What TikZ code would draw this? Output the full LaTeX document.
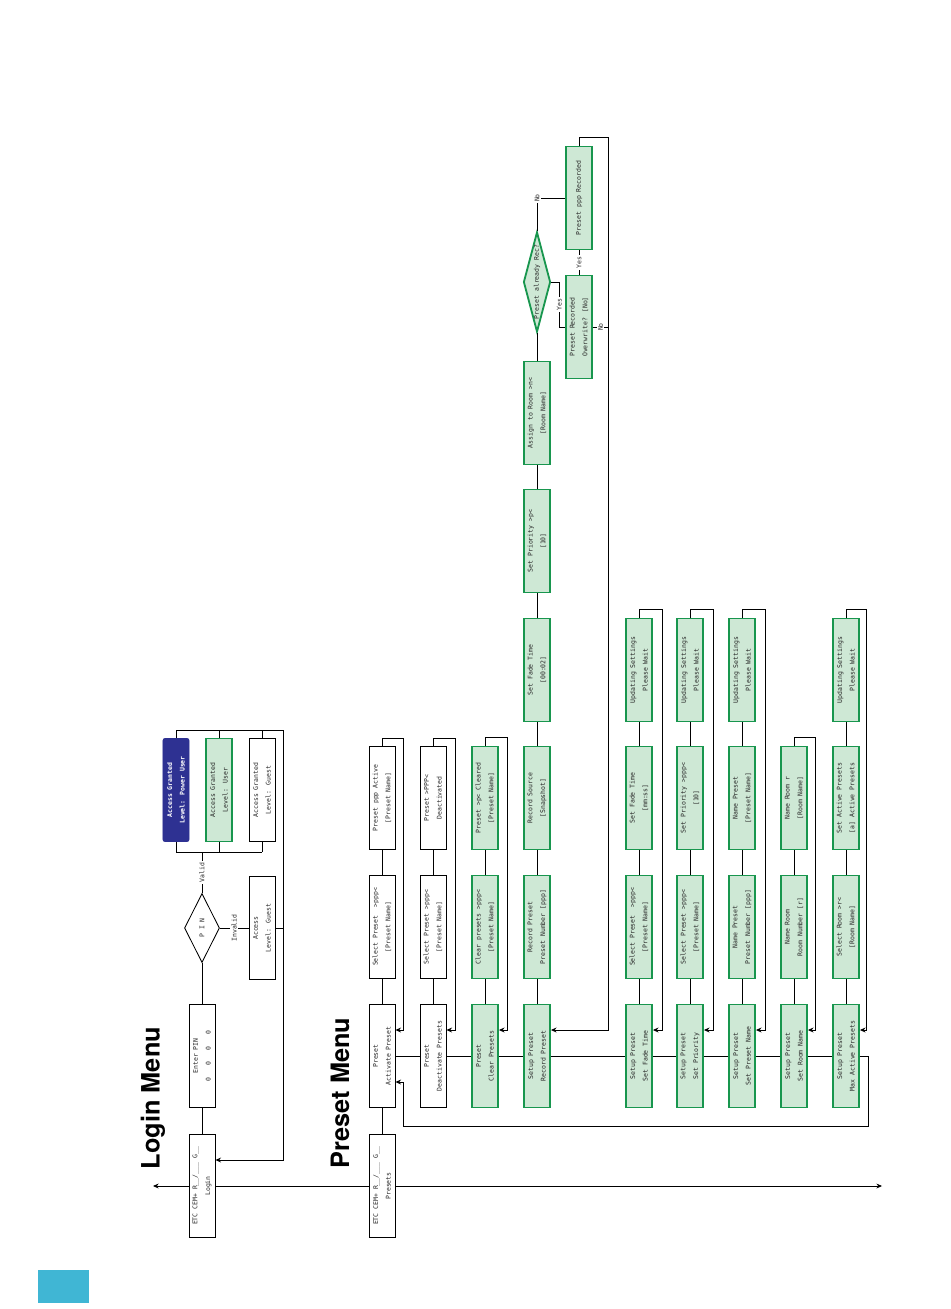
\documentclass[tikz,border=0pt]{standalone}
\usepackage{fontspec}
\setmainfont{TeX Gyre Heros}
\newfontfamily\boxfont{DejaVu Sans Mono}
\usetikzlibrary{shapes.geometric,arrows.meta,calc}

\definecolor{boxgreen}{RGB}{24,150,78}
\definecolor{boxfill}{RGB}{206,232,213}
\definecolor{userblue}{RGB}{46,49,146}
\definecolor{tabcyan}{RGB}{64,182,212}

\begin{document}
\begin{tikzpicture}[
    x=0.025cm, y=-0.025cm,
    line width=0.6pt,
    every node/.style={font=\boxfont\fontsize{4.6}{9}\selectfont, text=black!85},
    box/.style={
        draw, rectangle, rotate=90,
        minimum width=2.575cm,
        minimum height=0.65cm,
        inner sep=0pt,
        align=center
    },
    gbox/.style={box, draw=boxgreen, line width=1.3pt, fill=boxfill},
    decision/.style={draw, diamond, rotate=90, inner sep=0pt},
    gdecision/.style={decision, draw=boxgreen, line width=1.3pt, fill=boxfill},
    lbl/.style={rotate=90, fill=white, inner sep=1pt},
    title/.style={rotate=90, font=\bfseries\fontsize{18}{20}\selectfont, text=black},
    arrow/.style={-{Stealth[length=4pt,width=3.5pt]}}
]
\useasboundingbox (0,0) rectangle (950,1309);

%% ── Page tab and titles ──────────────────────────────
\fill[tabcyan] (38,1270) rectangle (89,1303);
\node[title] (loginTitle) at (153,1098) {Login Menu};
\node[title] (presetTitle) at (340,1093) {Preset Menu};

%% ── Login menu ────────────────────────────────────────
\node[box] (login) at (202,1186) {ETC CEM+ R\_\_/\_\_\_ G\_\_\\Login};
\node[box] (pin) at (202,1056) {Enter PIN\\0~~~0~~~0~~~0};
\node[decision, minimum width=1.725cm, minimum height=0.875cm] (pinchk) at (202,928) {};
\node[rotate=90] (pintxt) at (pinchk) {P I N};
\node[box, fill=userblue, draw=userblue, rounded corners=1.5pt, text=white,
      font=\boxfont\bfseries\fontsize{4.6}{9}\selectfont] (power) at (176,790)
    {Access Granted\\Level: Power User};
\node[gbox] (user) at (219,790) {Access Granted\\Level: User};
\node[box] (guest) at (262,790) {Access Granted\\Level: Guest};
\node[box] (guestlvl) at (262,928) {Access\\Level: Guest};

\coordinate (valid) at (202,852);
\coordinate (loginret) at (283,730);
\coordinate (lineL) at (153,1186);
\coordinate (lineR) at (882,1186);

\draw (login) -- (pin);
\draw (pin) -- (pinchk);
\draw (pinchk.east) -- node[lbl]{Valid} (valid);
\draw (power.west |- valid) -- (guest.west |- valid);
\foreach \acc in {power,user,guest}{
    \draw (\acc.west) -- (\acc.west |- valid);
    \draw (\acc.east) -- (\acc.east |- loginret);
}
\draw (power.east |- loginret) -- (loginret);
\draw (pinchk.south) -- node[lbl]{Invalid} (guestlvl);
\draw (guestlvl.south) -- (guestlvl.south -| loginret);
\draw[arrow] (loginret) |- ($(login.south)+(0,-26)$);

%% ── Preset menu: first row ────────────────────────────
\node[box] (presets) at (382,1186) {ETC CEM+ R\_\_/\_\_\_ G\_\_\\Presets};
\node[box] (actP) at (382,1056) {Preset\\Activate Preset};
\node[box] (deactP) at (433,1056) {Preset\\Deactivate Presets};
\node[gbox] (clearP) at (485,1056) {Preset\\Clear Presets};
\node[gbox] (recP) at (537,1056) {Setup Preset\\Record Preset};
\node[gbox] (fadeP) at (639,1056) {Setup Preset\\Set Fade Time};
\node[gbox] (prioP) at (690,1056) {Setup Preset\\Set Priority};
\node[gbox] (nameP) at (742,1056) {Setup Preset\\Set Preset Name};
\node[gbox] (roomP) at (794,1056) {Setup Preset\\Set Room Name};
\node[gbox] (maxP) at (846,1056) {Setup Preset\\Max Active Presets};

%% ── Main line ─────────────────────────────────────────
\draw[arrow] (login) -- (lineL);
\draw (login) -- (presets);
\draw[arrow] (presets) -- (lineR);

%% ── Preset menu: columns ──────────────────────────────
\node[box] (actSel) at (382,927) {Select Preset~~>ppp<\\{}[Preset Name]};
\node[box] (actOK) at (382,798) {Preset ppp Active\\{}[Preset Name]};
\node[box] (deactSel) at (433,927) {Select Preset >ppp<\\{}[Preset Name]};
\node[box] (deactOK) at (433,798) {Preset >PPP<\\Deactivated};
\node[gbox] (clearSel) at (485,927) {Clear presets >ppp<\\{}[Preset Name]};
\node[gbox] (clearOK) at (485,798) {Preset >p< Cleared\\{}[Preset Name]};

\node[gbox] (recNum) at (537,927) {Record Preset\\Preset Number [ppp]};
\node[gbox] (recSrc) at (537,798) {Record Source\\{}[Snapshot]};
\node[gbox] (recFade) at (537,670) {Set Fade Time\\{}[00:02]};
\node[gbox] (recPrio) at (537,541) {Set Priority >p<\\{}[10]};
\node[gbox] (recRoom) at (537,413) {Assign to Room >n<\\{}[Room Name]};
\node[gdecision, minimum width=2.5cm, minimum height=0.675cm] (recChk) at (537,282) {};
\node[rotate=90] (recChkTxt) at (recChk) {Preset already Rec?};
\node[gbox] (overw) at (579,327) {Preset Recorded\\Overwrite? [No]};
\node[gbox] (recOK) at (579,198) {Preset ppp Recorded};

\node[gbox] (fadeSel) at (639,927) {Select Preset~~>ppp<\\{}[Preset Name]};
\node[gbox] (fadeSet) at (639,798) {Set Fade Time\\{}[mm:ss]};
\node[gbox] (fadeWait) at (639,670) {Updating Settings\\Please Wait};
\node[gbox] (prioSel) at (690,927) {Select Preset >ppp<\\{}[Preset Name]};
\node[gbox] (prioSet) at (690,798) {Set Priority >ppp<\\{}[10]};
\node[gbox] (prioWait) at (690,670) {Updating Settings\\Please Wait};
\node[gbox] (nameNum) at (742,927) {Name Preset\\Preset Number [ppp]};
\node[gbox] (nameSet) at (742,798) {Name Preset\\{}[Preset Name]};
\node[gbox] (nameWait) at (742,670) {Updating Settings\\Please Wait};
\node[gbox] (roomNum) at (794,927) {Name Room\\Room Number [r]};
\node[gbox] (roomOK) at (794,798) {Name Room r\\{}[Room Name]};
\node[gbox] (maxSel) at (846,927) {Select Room >r<\\{}[Room Name]};
\node[gbox] (maxSet) at (846,798) {Set Active Presets\\{}[a] Active Presets};
\node[gbox] (maxWait) at (846,670) {Updating Settings\\Please Wait};

%% ── Preset menu: connectors ───────────────────────────
\draw (presets) -- (actP);
\foreach \a/\b in {actP/deactP, deactP/clearP, clearP/recP, recP/fadeP,
                   fadeP/prioP, prioP/nameP, nameP/roomP, roomP/maxP,
                   actP/actSel, actSel/actOK, deactP/deactSel, deactSel/deactOK,
                   clearP/clearSel, clearSel/clearOK,
                   recP/recNum, recNum/recSrc, recSrc/recFade, recFade/recPrio,
                   recPrio/recRoom, recRoom/recChk,
                   fadeP/fadeSel, fadeSel/fadeSet, fadeSet/fadeWait,
                   prioP/prioSel, prioSel/prioSet, prioSet/prioWait,
                   nameP/nameNum, nameNum/nameSet, nameSet/nameWait,
                   roomP/roomNum, roomNum/roomOK,
                   maxP/maxSel, maxSel/maxSet, maxSet/maxWait}{
    \draw (\a) -- (\b);
}

\draw (recChk.east) |- node[lbl, pos=0.5]{No} (recOK.north);
\draw (recChk.south) -- ++(8,0) |- node[lbl, pos=0.25]{Yes} (overw.north);
\draw (overw) -- node[lbl]{Yes} (recOK);
\coordinate (recloop) at (608,0);
\draw (overw.south) -- node[lbl]{No} (overw.south -| recloop);

%% ── Return loops ──────────────────────────────────────
\coordinate (ret) at (0,1030);
\coordinate (back) at (0,1082);
\foreach \top/\row/\gx in {actOK/actP/403, deactOK/deactP/455, clearOK/clearP/507,
                           recOK/recP/608, fadeWait/fadeP/662, prioWait/prioP/713,
                           nameWait/nameP/765, roomOK/roomP/815, maxWait/maxP/866}{
    \draw[arrow] (\top.east) -- ++(0,-8) -| (\gx,1030) -- (\row.south |- ret);
}
\draw[arrow] (maxP.south) -- ++(8,0) |- (403,1126) |- (actP.south |- back);

\end{tikzpicture}
\end{document}
